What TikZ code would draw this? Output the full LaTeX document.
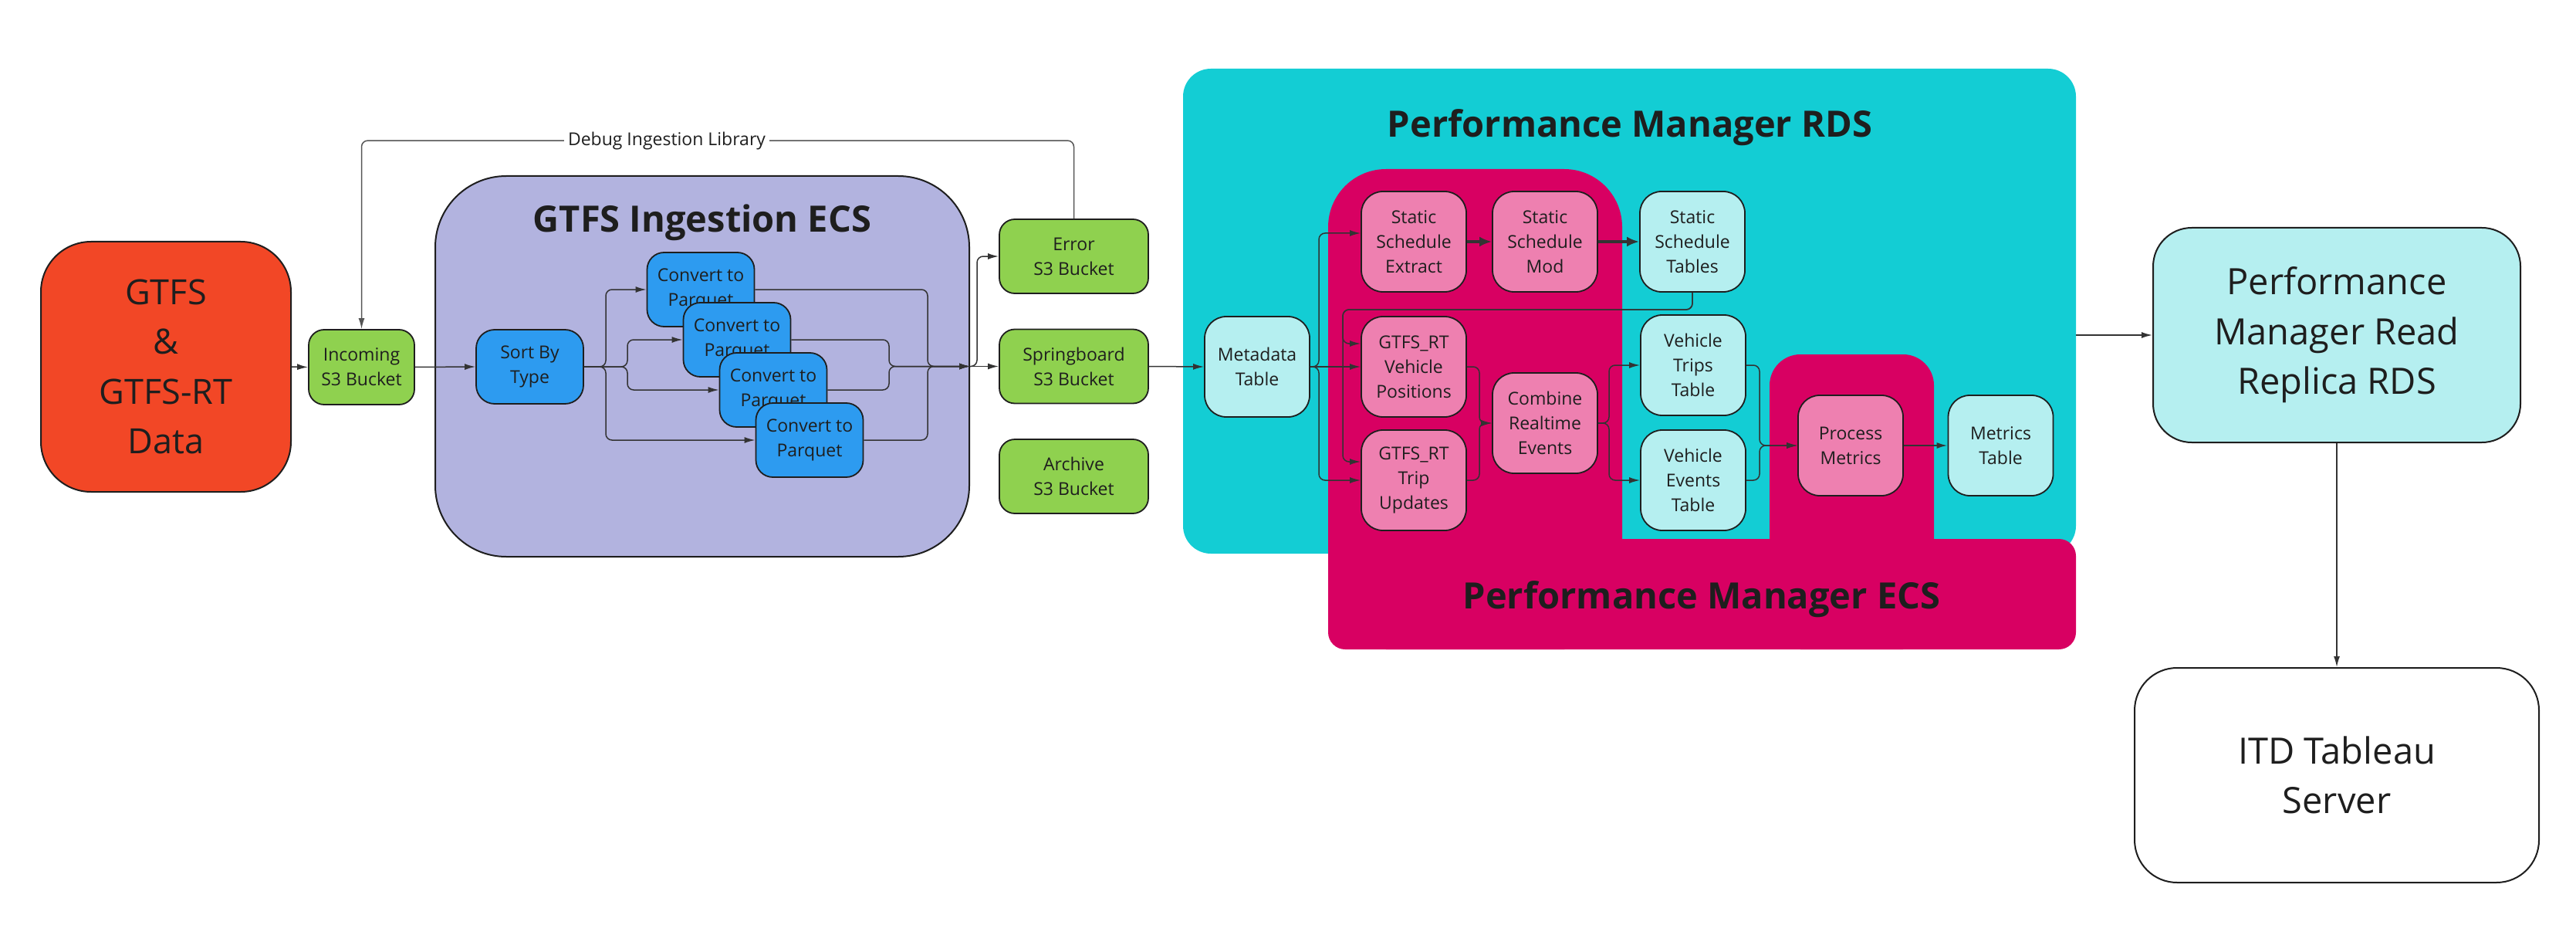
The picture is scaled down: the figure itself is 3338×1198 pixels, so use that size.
\documentclass[tikz,border=0pt]{standalone}
\usepackage{fontspec}
\setmainfont{Open Sans}
\usetikzlibrary{arrows.meta}
\definecolor{redbox}{HTML}{F24726}
\definecolor{greenbox}{HTML}{8FD14F}
\definecolor{purplebg}{HTML}{B2B3DF}
\definecolor{bluebox}{HTML}{2D9BF0}
\definecolor{rdscyan}{HTML}{13CDD4}
\definecolor{ecsmag}{HTML}{D80062}
\definecolor{pinkbox}{HTML}{EE80B0}
\definecolor{tablebox}{HTML}{B5EFF0}
\definecolor{ink}{HTML}{1E1E1E}
\definecolor{wire}{HTML}{333333}
\definecolor{debugwire}{HTML}{555555}
\newcommand\txtS{\fontsize{23pt}{32pt}\selectfont}
\newcommand\txtL{\fontsize{45pt}{64.5pt}\selectfont}
\newcommand\txtR{\fontsize{47pt}{64.5pt}\selectfont}
\newcommand\txtT{\fontsize{47pt}{52pt}\selectfont\bfseries}
\newcommand\txtD{\fontsize{23pt}{28pt}\selectfont}
\begin{document}
\begin{tikzpicture}[x=1pt,y=-1pt,
  base/.style={draw=ink, line width=1.8pt, align=center, text=ink, inner sep=0pt, font=\txtS},
  sbox/.style={base, minimum width=136pt, minimum height=130pt, rounded corners=28pt},
  pinknode/.style={sbox, fill=pinkbox},
  tablenode/.style={sbox, fill=tablebox},
  bucket/.style={base, fill=greenbox, minimum width=193pt, minimum height=96pt, rounded corners=20pt},
  convbox/.style={base, fill=bluebox, minimum width=139pt, minimum height=96pt, rounded corners=22pt},
  bigbox/.style={base, line width=2pt, font=\txtL},
  conn/.style={draw=wire, line width=1.5pt, -{Latex[length=14pt,width=8pt]}, rounded corners=8pt},
  thickconn/.style={draw=wire, line width=3.5pt, -{Latex[length=16pt,width=13pt]}},
  title/.style={font=\txtT, text=ink, anchor=base, inner sep=0pt}
]
\useasboundingbox (0,0) rectangle (3338,1198);

% ---------- containers ----------
\node[draw=ink, line width=2pt, fill=purplebg, rounded corners=92pt,
      minimum width=692pt, minimum height=493pt, inner sep=0pt] (ecs) at (910,474.5) {};
\node[title] (ecstitle) at (910,301) {GTFS Ingestion ECS};

\node[fill=rdscyan, rounded corners=36pt, minimum width=1157pt, minimum height=628pt, inner sep=0pt] (rds) at (2111.5,403) {};
\fill[ecsmag, rounded corners=75pt] (1721,219) rectangle (2102,841);
\fill[ecsmag, rounded corners=40pt] (2293,459) rectangle (2506,841);
\fill[ecsmag, rounded corners=22pt] (1721,698) rectangle (2690,841);
\node[title] (rdstitle) at (2112,178) {Performance Manager RDS};
\node[title] (pmtitle) at (2205,788) {Performance Manager ECS};

% ---------- left part ----------
\node[bigbox, fill=redbox, minimum width=324pt, minimum height=324pt, rounded corners=65pt] (gtfs) at (215,475) {GTFS\\\&\\GTFS-RT\\Data};
\node[base, fill=greenbox, minimum width=137pt, minimum height=97pt, rounded corners=20pt] (incoming) at (468.5,475.5) {Incoming\\S3 Bucket};
\node[convbox, rounded corners=24pt] (sort) at (686.5,475) {Sort By\\Type};
\node[convbox] (conv1) at (908,375) {Convert to\\Parquet};
\node[convbox] (conv2) at (955,440) {Convert to\\Parquet};
\node[convbox] (conv3) at (1002,505) {Convert to\\Parquet};
\node[convbox] (conv4) at (1049,570) {Convert to\\Parquet};

\node[bucket] (error) at (1391.5,332) {Error\\S3 Bucket};
\node[bucket] (spring) at (1391.5,474.5) {Springboard\\S3 Bucket};
\node[bucket] (archive) at (1391.5,617) {Archive\\S3 Bucket};

% ---------- RDS / ECS nodes ----------
\node[tablenode] (metadata) at (1629,475) {Metadata\\Table};
\node[pinknode] (sse) at (1832,313) {Static\\Schedule\\Extract};
\node[pinknode] (ssm) at (2002,313) {Static\\Schedule\\Mod};
\node[tablenode] (sst) at (2193,313) {Static\\Schedule\\Tables};
\node[pinknode] (vp) at (1832,475) {GTFS\_RT\\Vehicle\\Positions};
\node[pinknode] (tu) at (1832,622) {GTFS\_RT\\Trip\\Updates};
\node[pinknode] (combine) at (2002,548) {Combine\\Realtime\\Events};
\node[tablenode] (vtt) at (2194,473) {Vehicle\\Trips\\Table};
\node[tablenode] (vet) at (2194,622) {Vehicle\\Events\\Table};
\node[pinknode] (pm) at (2398,577) {Process\\Metrics};
\node[tablenode] (mt) at (2592.5,577) {Metrics\\Table};

% ---------- right part ----------
\node[bigbox, font=\txtR, fill=tablebox, minimum width=476pt, minimum height=278pt, rounded corners=50pt] (replica) at (3028,434) {Performance\\Manager Read\\Replica RDS};
\node[bigbox, font=\txtR, fill=white, minimum width=524pt, minimum height=278pt, rounded corners=55pt] (itd) at (3028,1004) {ITD Tableau\\Server};

% ---------- connectors: ingestion ----------
\draw[conn] (gtfs.east) -- (incoming.west);
\draw[conn] (incoming.east) -- (sort.west);
\coordinate (forkA) at (785,475);
\coordinate (forkB) at (813,475);
\draw[conn] (sort.east) -- (forkA) |- (conv1.west);
\draw[conn] (sort.east) -- (forkA) |- (conv4.west);
\draw[conn] (sort.east) -- (forkB) |- (conv2.west);
\draw[conn] (sort.east) -- (forkB) |- (conv3.west);
\coordinate (mergeA) at (1202,474.5);
\coordinate (mergeB) at (1152,474.5);
\draw[conn] (conv1.east) -| (mergeA) -- (ecs.east);
\draw[conn] (conv4.east) -| (mergeA) -- (ecs.east);
\draw[conn] (conv2.east) -| (mergeB) -- (ecs.east);
\draw[conn] (conv3.east) -| (mergeB) -- (ecs.east);
\coordinate (outfork) at (1266,474.5);
\draw[conn] (ecs.east) -- (spring.west);
\draw[conn] (ecs.east) -- (outfork) |- (error.west);

% debug loop
\draw[conn, draw=debugwire] (error.north) -- ++(0,-101) -| (incoming.north);
\node[fill=white, font=\txtD, text=ink, inner sep=5pt] (debuglbl) at (864,183) {Debug Ingestion Library};

% ---------- connectors: performance manager ----------
\draw[conn] (spring.east) -- (metadata.west);
\coordinate (mfork) at (1709,475);
\draw[conn] (metadata.east) -- (mfork) |- ([yshift=11pt]sse.west);
\draw[conn] (metadata.east) -- (vp.west);
\draw[conn] (metadata.east) -- (mfork) |- (tu.west);
\draw[thickconn] (sse) -- (ssm);
\draw[thickconn] (ssm) -- (sst);
\coordinate (tblturn) at (1740,401);
\draw[conn] (sst.south) |- (tblturn) |- ([yshift=30pt]vp.west);
\draw[conn] (sst.south) |- (tblturn) |- ([yshift=24pt]tu.west);
\coordinate (cfork) at (1917,548);
\draw[conn] (vp.east) -| (cfork) -- (combine.west);
\draw[conn] (tu.east) -| (cfork) -- (combine.west);
\coordinate (ofork) at (2085,548);
\draw[conn] (combine.east) -- (ofork) |- (vtt.west);
\draw[conn] (combine.east) -- (ofork) |- (vet.west);
\coordinate (pfork) at (2280,577);
\draw[conn] (vtt.east) -| (pfork) -- (pm.west);
\draw[conn] (vet.east) -| (pfork) -- (pm.west);
\draw[conn, line width=2pt] (pm) -- (mt);
\draw[conn] (rds.east |- replica.west) -- (replica.west);
\draw[conn] (replica) -- (itd);
\end{tikzpicture}
\end{document}
